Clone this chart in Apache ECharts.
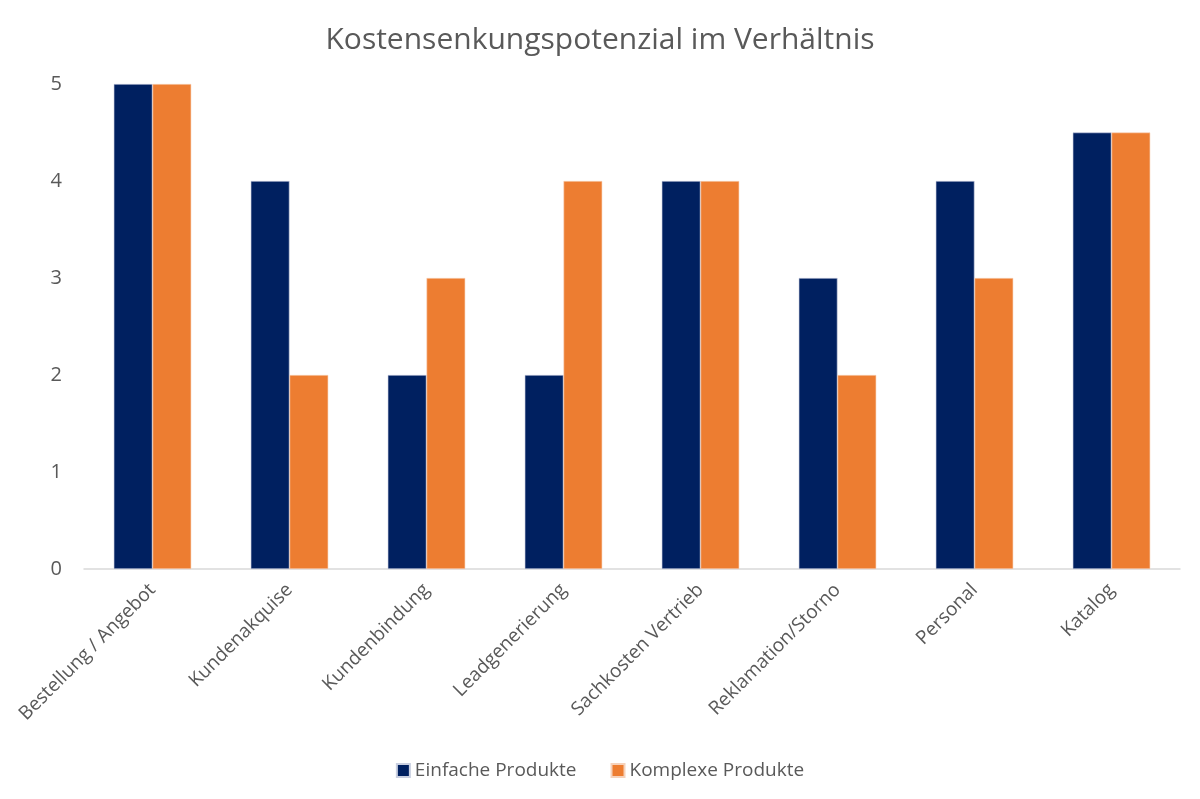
<!DOCTYPE html>
<html>
<head>
<meta charset="utf-8">
<script src="https://cdn.jsdelivr.net/npm/echarts@6/dist/echarts.min.js"></script>
<style>
  html, body { margin: 0; padding: 0; background: #fff; }
  #chart { width: 1200px; height: 799px; }
</style>
</head>
<body>
<div id="chart"></div>
<script>
const categories = ['Bestellung / Angebot', 'Kundenakquise', 'Kundenbindung', 'Leadgenerierung',
  'Sachkosten Vertrieb', 'Reklamation/Storno', 'Personal', 'Katalog'];
const einfache = [5, 4, 2, 2, 4, 3, 4, 4.5];
const komplexe = [5, 2, 3, 4, 4, 2, 3, 4.5];
const yTicks = [0, 1, 2, 3, 4, 5];

const font = '"Open Sans", sans-serif';
const textColor = '#595959';

const chart = echarts.init(document.getElementById('chart'), null, { renderer: 'canvas' });
chart.setOption({
  animation: false,
  title: {
    text: 'Kostensenkungspotenzial im Verhältnis',
    left: 'center',
    top: 20,
    textStyle: { fontFamily: font, fontSize: 30, fontWeight: 'normal', color: textColor }
  },
  legend: {
    bottom: 14,
    left: 'center',
    itemWidth: 13,
    itemHeight: 13,
    itemGap: 34,
    icon: 'rect',
    textStyle: { fontFamily: font, fontSize: 19, color: textColor }
  },
  grid: { left: 84, right: 20, top: 84, bottom: 230, containLabel: false },
  xAxis: {
    type: 'category',
    data: categories,
    axisLine: { lineStyle: { color: '#d9d9d9', width: 1.5 } },
    axisTick: { show: false },
    axisLabel: { rotate: 45, margin: 18, fontFamily: font, fontSize: 19, color: textColor }
  },
  yAxis: {
    type: 'value',
    min: yTicks[0],
    max: yTicks[yTicks.length - 1],
    interval: 1,
    splitLine: { show: false },
    axisLine: { show: false },
    axisTick: { show: false },
    axisLabel: { margin: 22, fontFamily: font, fontSize: 20, color: textColor }
  },
  series: [
    {
      name: 'Einfache Produkte',
      type: 'bar',
      data: einfache,
      barWidth: '28.3%',
      barGap: '0%',
      itemStyle: { color: '#002060', borderColor: '#c9cfe0', borderWidth: 0.6 }
    },
    {
      name: 'Komplexe Produkte',
      type: 'bar',
      data: komplexe,
      barWidth: '28.3%',
      barGap: '0%',
      itemStyle: { color: '#ED7D31', borderColor: '#f6d2bb', borderWidth: 0.6 }
    }
  ]
});
</script>
</body>
</html>
